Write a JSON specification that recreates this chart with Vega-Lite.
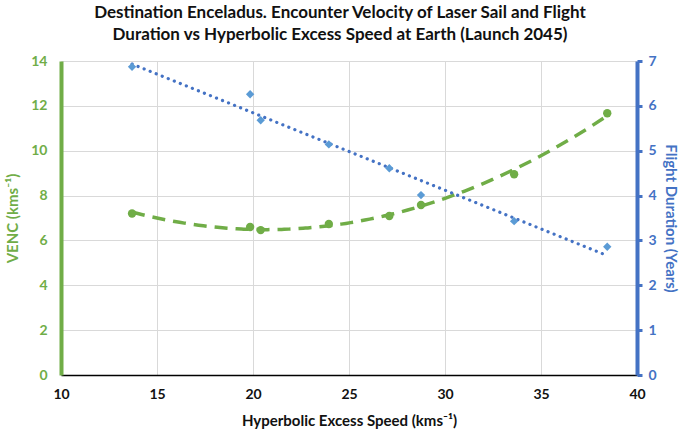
{
  "$schema": "https://vega.github.io/schema/vega-lite/v6.json",
  "width": 576,
  "height": 314,
  "autosize": {"type": "none"},
  "padding": {"left": 61, "top": 61, "right": 43, "bottom": 61},
  "background": "white",
  "config": {
    "font": "Lato",
    "view": {"stroke": null}
  },
  "title": {
    "text": ["Destination Enceladus. Encounter Velocity of Laser Sail and Flight", "Duration vs Hyperbolic Excess Speed at Earth (Launch 2045)"],
    "fontSize": 17,
    "fontWeight": "bold",
    "font": "Lato",
    "color": "#111111",
    "anchor": "middle",
    "dx": -9,
    "lineHeight": 22,
    "offset": 10
  },
  "datasets": {
    "venc": [
      {"speed": 13.7, "venc": 7.2},
      {"speed": 19.85, "venc": 6.6},
      {"speed": 20.4, "venc": 6.46},
      {"speed": 23.95, "venc": 6.73},
      {"speed": 27.1, "venc": 7.09},
      {"speed": 28.75, "venc": 7.58},
      {"speed": 33.6, "venc": 8.95},
      {"speed": 38.45, "venc": 11.67}
    ],
    "dur": [
      {"speed": 13.7, "years": 6.87},
      {"speed": 19.85, "years": 6.26},
      {"speed": 20.4, "years": 5.68},
      {"speed": 23.95, "years": 5.14},
      {"speed": 27.1, "years": 4.61},
      {"speed": 28.75, "years": 4.01},
      {"speed": 33.6, "years": 3.43},
      {"speed": 38.45, "years": 2.86}
    ]
  },
  "layer": [
    {
      "data": {"name": "venc"},
      "layer": [
        {
          "transform": [{"regression": "venc", "on": "speed", "method": "poly", "order": 2}],
          "mark": {"type": "line", "color": "#70AD47", "strokeWidth": 3.5, "strokeDash": [13, 8]},
          "encoding": {
            "x": {"field": "speed", "type": "quantitative", "scale": {"domain": [10, 40], "nice": false},
              "axis": {"title": "Hyperbolic Excess Speed (kms⁻¹)", "values": [10, 15, 20, 25, 30, 35, 40], "labelFlush": false, "grid": true, "gridColor": "#d9d9d9", "domainColor": "#000000", "domainWidth": 1.5, "ticks": false, "labelFontSize": 14, "labelFontWeight": "bold", "labelColor": "#111111", "labelPadding": 12, "titleFontSize": 15, "titleFontWeight": "bold", "titleColor": "#111111", "titlePadding": 12}},
            "y": {"field": "venc", "type": "quantitative", "scale": {"domain": [0, 14], "nice": false},
              "axis": {"orient": "left", "title": "VENC (kms⁻¹)", "values": [0, 2, 4, 6, 8, 10, 12, 14], "labelFlush": false, "grid": true, "gridColor": "#d9d9d9", "domainColor": "#70AD47", "domainWidth": 4, "ticks": false, "labelFontSize": 14, "labelFontWeight": "bold", "labelColor": "#70AD47", "labelPadding": 14, "titleFontSize": 15, "titleFontWeight": "bold", "titleColor": "#70AD47", "titlePadding": 10}}
          }
        },
        {
          "mark": {"type": "point", "shape": "circle", "filled": true, "color": "#70AD47", "size": 70, "opacity": 1},
          "encoding": {
            "x": {"field": "speed", "type": "quantitative"},
            "y": {"field": "venc", "type": "quantitative"}
          }
        }
      ]
    },
    {
      "data": {"name": "dur"},
      "layer": [
        {
          "transform": [{"regression": "years", "on": "speed", "method": "linear"}],
          "mark": {"type": "line", "color": "#4472C4", "strokeWidth": 3.2, "strokeDash": [0.1, 6.4], "strokeCap": "round"},
          "encoding": {
            "x": {"field": "speed", "type": "quantitative"},
            "y": {"field": "years", "type": "quantitative", "scale": {"domain": [0, 7], "nice": false},
              "axis": {"orient": "right", "title": "Flight Duration (Years)", "values": [0, 1, 2, 3, 4, 5, 6, 7], "labelFlush": false, "grid": false, "domainColor": "#4472C4", "domainWidth": 4, "ticks": true, "tickColor": "#4472C4", "tickWidth": 3, "tickSize": 5, "labelFontSize": 14, "labelFontWeight": "bold", "labelColor": "#4472C4", "labelPadding": 6, "titleFontSize": 15, "titleFontWeight": "bold", "titleColor": "#4472C4", "titlePadding": 6}}
          }
        },
        {
          "mark": {"type": "point", "shape": "diamond", "filled": true, "color": "#5B9BD5", "size": 70, "opacity": 1},
          "encoding": {
            "x": {"field": "speed", "type": "quantitative"},
            "y": {"field": "years", "type": "quantitative"}
          }
        }
      ]
    }
  ],
  "resolve": {"scale": {"y": "independent"}, "axis": {"y": "independent"}}
}
